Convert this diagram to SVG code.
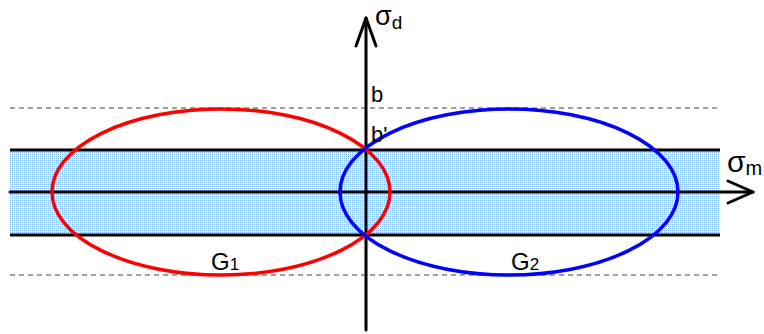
<svg xmlns="http://www.w3.org/2000/svg" width="764" height="334" viewBox="0 0 764 334">
<defs>
<pattern id="dots" width="2" height="2" patternUnits="userSpaceOnUse">
<rect width="2" height="2" fill="#e4f1fc"/>
<rect width="1" height="1" fill="#7fbaf0"/>
</pattern>
<style>
.band{fill:url(#dots)}
.hl{stroke:#000;stroke-width:3;fill:none}
.dash{stroke:#808080;stroke-width:1.5;stroke-dasharray:5 4;fill:none}
.ax{stroke:#000;stroke-width:3;fill:none;stroke-linecap:round;stroke-linejoin:round}
.t{font-family:"Liberation Sans",Arial,sans-serif;fill:#000}
</style>
</defs>
<rect class="band" x="10" y="150" width="710" height="85"/>
<g id="guides">
<line class="dash" x1="10" y1="108" x2="720" y2="108"/>
<line class="dash" x1="10" y1="275" x2="720" y2="275"/>
</g>
<g id="connectors">
<line class="hl" x1="10" y1="150" x2="720" y2="150"/>
<line class="hl" x1="10" y1="235" x2="720" y2="235"/>
<line class="ax" x1="10" y1="192" x2="753" y2="192"/>
<polyline class="ax" points="728,181 753,192 728,203"/>
<line class="ax" x1="366" y1="330" x2="366" y2="18"/>
<polyline class="ax" points="356,46 366,18 376,46"/>
</g>
<g id="G1">
<ellipse cx="221" cy="192" rx="169" ry="83" fill="none" stroke="#ff0000" stroke-width="3.5"/>
<text class="t" x="211" y="270" font-size="24">G<tspan font-size="17">1</tspan></text>
</g>
<g id="G2">
<ellipse cx="509" cy="192" rx="169" ry="83" fill="none" stroke="#0000ff" stroke-width="3.5"/>
<text class="t" x="511" y="270" font-size="24">G<tspan font-size="17">2</tspan></text>
</g>
<g id="labels">
<text class="t" x="375" y="25" font-size="27">σ<tspan font-size="19" dy="4">d</tspan></text>
<text class="t" x="371" y="102" font-size="22">b</text>
<text class="t" x="371" y="142" font-size="22">b'</text>
<text class="t" x="727" y="172" font-size="30">σ<tspan font-size="20" dy="3">m</tspan></text>
</g>
</svg>
